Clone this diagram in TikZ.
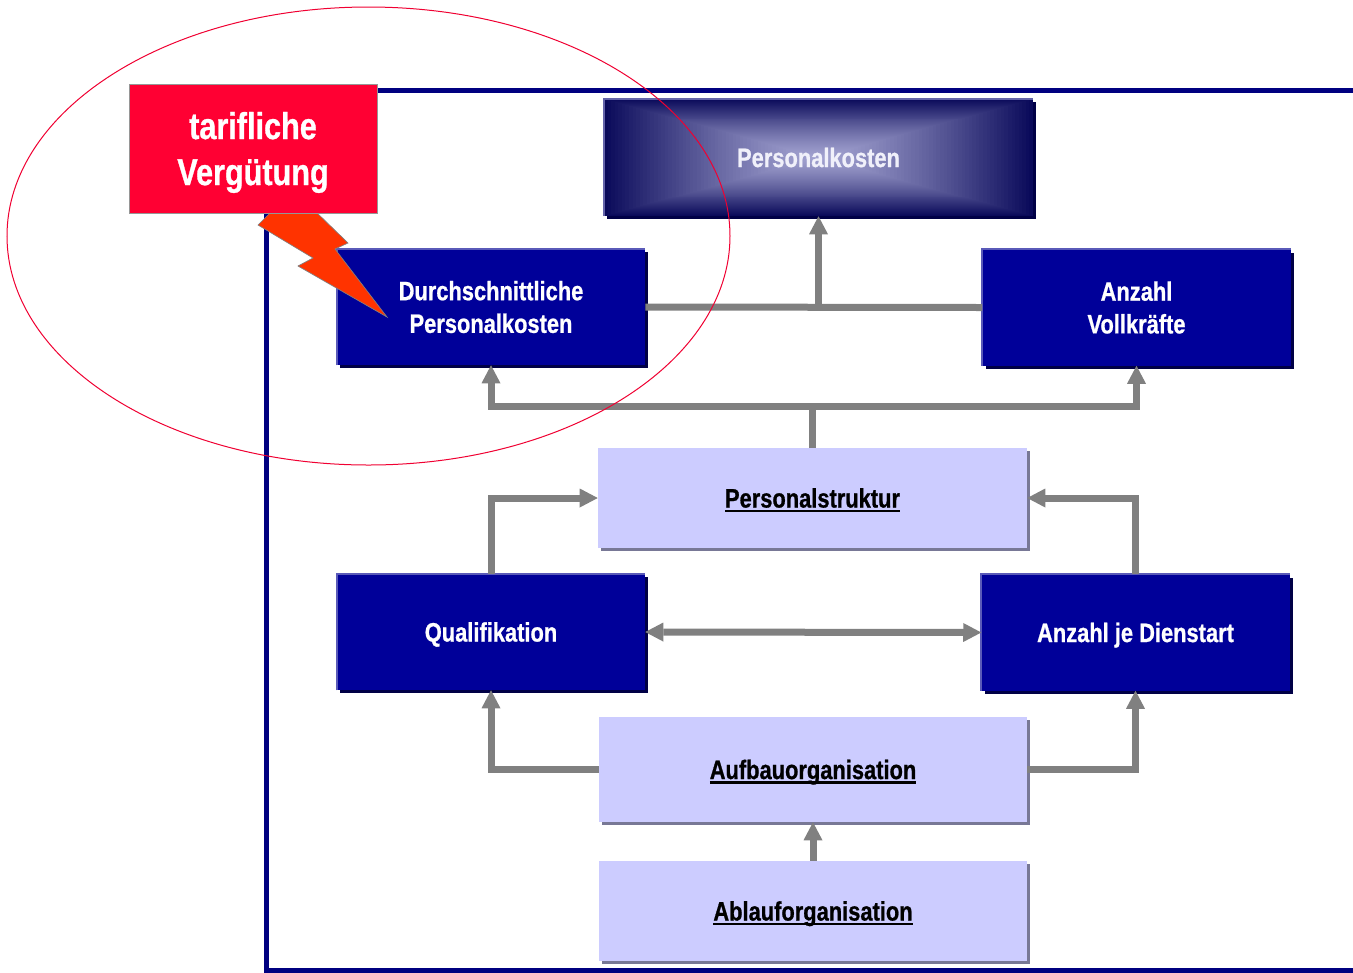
\documentclass[tikz,border=0pt]{standalone}
\usepackage{fontspec}
\newfontfamily\nar{Liberation Sans}[FakeStretch=0.82, BoldFeatures={FakeBold=0.8}]
\usetikzlibrary{arrows.meta,shadows}
\definecolor{frameblue}{RGB}{0,0,128}
\definecolor{boxblue}{RGB}{0,0,153}
\definecolor{boxshadow}{RGB}{0,0,70}
\definecolor{boxedge}{RGB}{90,90,185}
\definecolor{lightfill}{RGB}{204,204,255}
\definecolor{lightshadow}{RGB}{120,120,150}
\definecolor{arrgray}{RGB}{128,128,128}
\definecolor{redfill}{RGB}{255,0,51}
\definecolor{boltfill}{RGB}{255,51,0}
\definecolor{pkdark}{RGB}{10,10,90}
\definecolor{pklight}{RGB}{162,162,208}
\definecolor{pkedge}{RGB}{100,100,170}
\definecolor{ellred}{RGB}{240,0,50}
\newcommand\myul[1]{\setbox0\hbox{#1}\rlap{\rule[-3.5pt]{\wd0}{2pt}}\box0}
\begin{document}
\begin{tikzpicture}[x=0.75pt,y=-0.75pt,
  boxfont/.style={font=\nar\bfseries\fontsize{20}{24.5}\selectfont},
  oneline/.style={text height=14.3pt,text depth=0pt},
  darkbox/.style={boxfont, fill=boxblue, text=white, inner sep=0pt, align=center,
    general shadow={fill=boxshadow, shadow xshift=2.25pt, shadow yshift=-2.25pt}},
  lightbox/.style={boxfont, oneline, fill=lightfill, text=black, inner sep=0pt, align=center,
    general shadow={fill=lightshadow, shadow xshift=2.25pt, shadow yshift=-2.25pt}},
  conn/.style={draw=arrgray, line width=5.25pt},
  arr/.style={conn, -{Triangle[length=13.5pt,width=14.25pt,line width=0pt]}},
  darr/.style={conn, {Triangle[length=13.5pt,width=14.25pt,line width=0pt]}-{Triangle[length=13.5pt,width=14.25pt,line width=0pt]}},
  redbox/.style={fill=redfill, draw={rgb,255:red,150;green,150;blue,150}, line width=0.75pt, text=white, inner sep=0pt, align=center,
    font=\nar\bfseries\fontsize{28}{34.5}\selectfont}
]
\path[use as bounding box, fill=white] (0,0) rectangle (1353,972);
% frame
\draw[frameblue, line width=3.75pt] (1360,90) -- (266,90) -- (266,970) -- (1360,970);
% Personalkosten box with rectangular gradient
\fill[boxshadow] (607,102) rectangle (1036,219);
\foreach \i in {0,...,59}{
  \pgfmathsetmacro\t{\i/60}
  \pgfmathsetmacro\p{100*(1-(1-\t)^1.3)}
  \pgfmathsetmacro\hw{214.5*(1-\t)}
  \pgfmathsetmacro\hh{58.5*(1-\t)}
  \fill[pklight!\p!pkdark] (818.5-\hw,157.5-\hh) rectangle (818.5+\hw,157.5+\hh);
}
\draw[pkedge, line width=1.2pt] (604,216) -- (604,99) -- (1033,99);
\node[boxfont, oneline, text={rgb,255:red,240;green,240;blue,250}, inner sep=0pt,
  minimum width=429*0.75pt, minimum height=117*0.75pt] (PK) at (818.5,157.5) {Personalkosten};
% dark boxes
\node[darkbox, minimum width=308*0.75pt, minimum height=116*0.75pt] (DP) at (491,307) {Durchschnittliche\\Personalkosten};
\node[darkbox, minimum width=308*0.75pt, minimum height=116*0.75pt] (AV) at (1136.5,307.5) {Anzahl\\Vollkräfte};
\node[darkbox, oneline, minimum width=308*0.75pt, minimum height=116*0.75pt] (Q) at (491,632) {Qualifikation};
\node[darkbox, oneline, minimum width=308*0.75pt, minimum height=116*0.75pt] (AD) at (1135.5,632.5) {Anzahl je Dienstart};
\foreach \n in {DP,AV,Q,AD}
  \draw[boxedge, line width=1.2pt] (\n.south west) -- (\n.north west) -- (\n.north east);
% light boxes
\node[lightbox, minimum width=429*0.75pt, minimum height=100*0.75pt] (PS) at (812.5,498) {\myul{Personalstruktur}};
\node[lightbox, minimum width=428*0.75pt, minimum height=105*0.75pt] (AU) at (813,769.5) {\myul{Aufbauorganisation}};
\node[lightbox, minimum width=428*0.75pt, minimum height=100*0.75pt] (AB) at (813,911) {\myul{Ablauforganisation}};
% connectors
\coordinate (j2) at (812.5,406);
\draw[conn] (DP.east) -- (AV.west);
\draw[arr] (PK.south |- DP.east) -- (PK.south);
\draw[conn] (PS.north) -- (j2);
\draw[darr] (DP.south) |- (j2) -| (AV.south);
\draw[arr] (Q.north) |- (PS.west);
\draw[arr] (AD.north) |- (PS.east);
\draw[darr] (Q.east) -- (AD.west);
\draw[arr] (AU.west) -| (Q.south);
\draw[arr] (AU.east) -| (AD.south);
\draw[arr] (AB.north) -- (AU.south);
% lightning bolt
\fill[boltfill, draw=arrgray, line width=0.5pt] (258,225) -- (275,208) -- (312,208) -- (348,243) -- (335,249) -- (387,317) -- (298,266) -- (313,258) -- cycle;
% red box
\node[redbox, minimum width=248*0.75pt, minimum height=129*0.75pt] (TV) at (253,148.5) {tarifliche\\\smash{Vergütung}};
% ellipse
\draw[ellred, line width=0.75pt] (368.5,236) ellipse [x radius=361.5, y radius=229];
\end{tikzpicture}
\end{document}
